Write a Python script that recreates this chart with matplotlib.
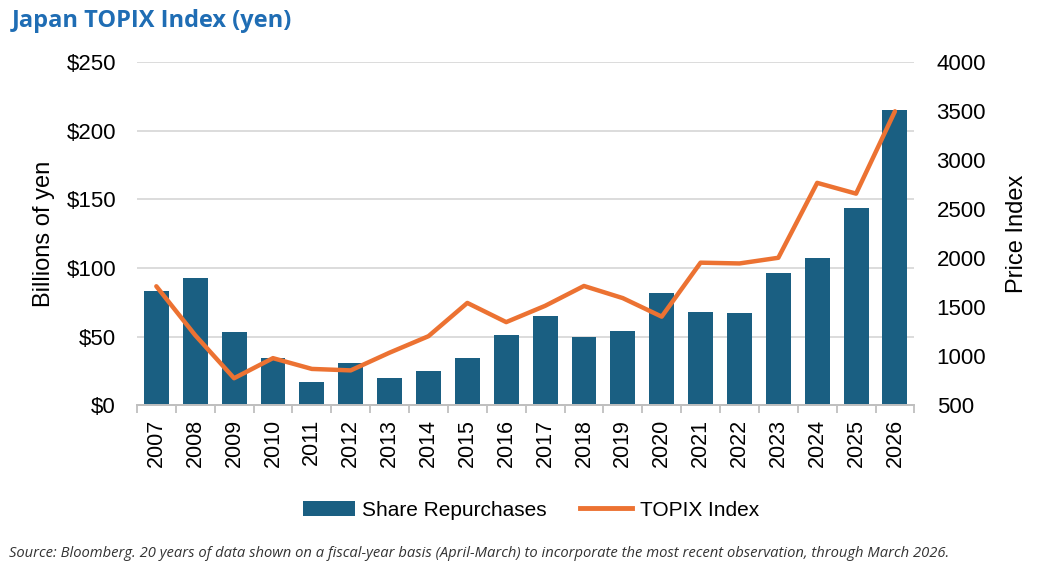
import matplotlib.pyplot as plt
from matplotlib.ticker import FuncFormatter, MultipleLocator
from matplotlib.patches import Patch
from matplotlib.lines import Line2D

# 数据：财年（4 月 - 3 月），回购金额（十亿日元）与 TOPIX 年末点位
years = [str(y) for y in range(2007, 2027)]
repurchases = [83, 93, 53, 34, 17, 31, 20, 25, 34, 51,
               65, 50, 54, 82, 68, 67, 96, 107, 144, 215]
topix = [1713, 1213, 774, 979, 869, 854, 1035, 1203, 1543, 1347,
         1513, 1716, 1592, 1403, 1954, 1946, 2004, 2769, 2659, 3500]

BAR_COLOR = "#1a5f82"
LINE_COLOR = "#ec7232"
GRID_COLOR = "#d9d9d9"

plt.rcParams["font.family"] = ["Liberation Sans", "DejaVu Sans"]

fig = plt.figure(figsize=(10.45, 5.77), dpi=100)
ax = fig.add_axes([0.131, 0.298, 0.744, 0.594])
ax2 = ax.twinx()

x = list(range(len(years)))
ax.bar(x, repurchases, width=0.64, color=BAR_COLOR, zorder=2)
ax2.plot(x, topix, color=LINE_COLOR, linewidth=3.2, solid_capstyle="round",
         solid_joinstyle="round", zorder=3)

ax.set_xlim(-0.5, len(years) - 0.5)
ax.set_ylim(0, 250)
ax.yaxis.set_major_locator(MultipleLocator(50))
ax.yaxis.set_major_formatter(FuncFormatter(lambda v, _: f"${v:.0f}"))
ax.grid(axis="y", color=GRID_COLOR, linewidth=1.3, zorder=0)
ax.set_axisbelow(True)

ax2.set_ylim(500, 4000)
ax2.yaxis.set_major_locator(MultipleLocator(500))

# x 轴：类别之间的小刻度
ax.set_xticks(x)
ax.set_xticklabels(years, rotation=90, fontsize=15.5)
ax.set_xticks([i - 0.5 for i in range(len(years) + 1)], minor=True)
ax.tick_params(axis="x", which="major", length=0, pad=10)
ax.tick_params(axis="x", which="minor", length=6, color="#bfbfbf", width=1.3)
ax.tick_params(axis="y", length=0, labelsize=16, pad=15)
ax2.tick_params(axis="y", length=0, labelsize=16, pad=16)

for a in (ax, ax2):
    for side in ("top", "left", "right"):
        a.spines[side].set_visible(False)
    a.spines["bottom"].set_color("#bfbfbf")
    a.spines["bottom"].set_linewidth(1.3)

ax.set_ylabel("Billions of yen", fontsize=17, labelpad=8)
ax2.set_ylabel("Price Index", fontsize=17, labelpad=14)

fig.text(0.011, 0.963, "Japan TOPIX Index (yen)", fontsize=17, fontweight="bold",
         color="#1f6db4", family=["Open Sans", "DejaVu Sans"], va="center")

handles = [Patch(facecolor=BAR_COLOR), Line2D([0], [0], color=LINE_COLOR, linewidth=3.5)]
fig.legend(handles, ["Share Repurchases", "TOPIX Index"], loc="center",
           bbox_to_anchor=(0.508, 0.116), ncol=2, frameon=False, fontsize=15,
           handlelength=2.5, handleheight=0.75, columnspacing=1.6, handletextpad=0.35)

fig.text(0.009, 0.04,
         "Source: Bloomberg. 20 years of data shown on a fiscal-year basis (April-March) "
         "to incorporate the most recent observation, through March 2026.",
         fontsize=10.6, style="italic", color="#333333",
         family=["Open Sans", "DejaVu Sans"], va="center")

fig.savefig("out.png", dpi=100)
